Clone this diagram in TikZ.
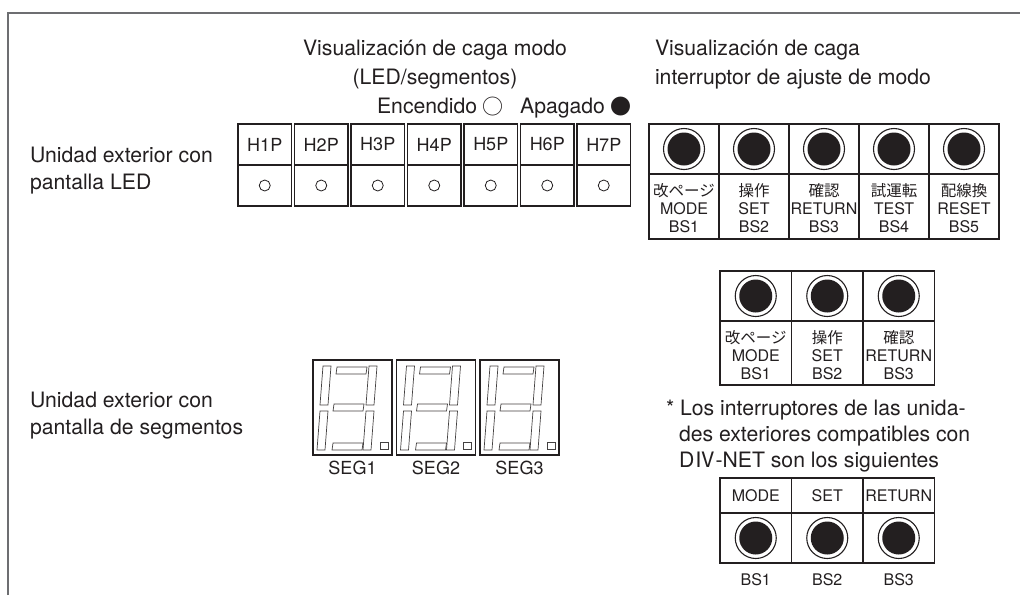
\documentclass[tikz,border=0pt]{standalone}
\usepackage{fontspec}
\setmainfont{TeX Gyre Heros}
\newfontfamily\cjk{Noto Sans CJK JP}
\usetikzlibrary{calc}
\definecolor{ink}{HTML}{231F20}
\definecolor{framegray}{HTML}{6D6E71}
\newcommand\mysegs[2]{%
  \begin{scope}[shift={(#1,#2)}]
    \draw[seg] (24,7) -- (54,7) -- (53,14) -- (23,14) -- cycle;
    \draw[seg] (10,6) -- (18,6) -- (15,45) -- (7,45) -- cycle;
    \draw[seg] (56,6) -- (64,6) -- (61,45) -- (53,45) -- cycle;
    \draw[seg] (21,44) -- (51,44) -- (50,51) -- (20,51) -- cycle;
    \draw[seg] (7,51) -- (15,51) -- (12,90) -- (4,90) -- cycle;
    \draw[seg] (53,51) -- (61,51) -- (58,90) -- (50,90) -- cycle;
    \draw[seg] (20,83) -- (50,83) -- (49,90) -- (19,90) -- cycle;
    \draw[seg] (67,82) rectangle (75,89);
  \end{scope}}
\newcommand\mysym[1]{\raisebox{-1pt}{\cjk\fontsize{21}{21}\selectfont #1}}
\begin{document}
\begin{tikzpicture}[x=1pt,y=-1pt,
  every node/.style={text=ink,inner sep=0pt,outer sep=0pt},
  big/.style={font=\fontsize{21.2}{24}\selectfont},
  hp/.style={font=\fontsize{18}{20}\selectfont},
  sw/.style={font=\fontsize{16}{18}\selectfont},
  seglbl/.style={font=\fontsize{18}{20}\selectfont},
  jp/.style={font=\cjk\fontsize{15.5}{18}\selectfont},
  ledcell/.style={draw=ink,line width=1.1pt,minimum width=53.5pt,minimum height=41pt},
  swcell/.style={draw=ink,line width=1.1pt},
  ring/.style={draw=ink,line width=1.1pt},
  knob/.style={fill=ink},
  ledring/.style={draw=ink,line width=0.8pt},
  segbox/.style={draw=ink,line width=1.3pt,minimum width=79pt,minimum height=95pt},
  seg/.style={draw=ink!85,line width=0.7pt},
]
\useasboundingbox (0,0) rectangle (1020,595);
\fill[white] (0,0) rectangle (1020,595);
% frame
\draw[framegray,line width=1.3pt] (8,595) -- (8,13) -- (1020,13);

% headers
\node[big,anchor=base] (hl1) at (435,55) {Visualización de caga modo};
\node[big,anchor=base] (hl2) at (435,84) {(LED/segmentos)};
\node[big,anchor=base east] (hl3) at (631,113) {Encendido\hspace{5pt}\mysym{○}\hspace{17pt}Apagado\hspace{5pt}\mysym{●}};
\node[big,anchor=base west] (hr1) at (655,55) {Visualización de caga};
\node[big,anchor=base west] (hr2) at (655,84) {interruptor de ajuste de modo};

% left labels
\node[big,anchor=base west] (u1) at (30,162) {Unidad exterior con};
\node[big,anchor=base west] (u2) at (30,189) {pantalla LED};
\node[big,anchor=base west] (u3) at (30,407) {Unidad exterior con};
\node[big,anchor=base west] (u4) at (30,434) {pantalla de segmentos};

% LED table
\foreach \i in {1,...,7}{
  \pgfmathsetmacro\cx{238+56.5*(\i-1)+26.75}
  \node[ledcell,hp] (h\i) at (\cx,144.5) {H\i P};
  \node[ledcell,anchor=north] (l\i) at (h\i.south) {};
  \draw[ledring] (l\i.center) circle (5.5);
}

% five-switch table
\foreach \i/\j/\t/\b in {1/改ページ/MODE/BS1,2/操作/SET/BS2,3/確認/RETURN/BS3,4/試運転/TEST/BS4,5/配線換/RESET/BS5}{
  \pgfmathsetmacro\cx{649+70*\i-35}
  \node[swcell,minimum width=70pt,minimum height=50pt] (a\i) at (\cx,149) {};
  \node[swcell,minimum width=70pt,minimum height=65pt,anchor=north] (b\i) at (a\i.south) {};
  \draw[ring] (a\i.center) circle (20.5);
  \fill[knob] (a\i.center) circle (16.5);
  \node[jp] (aj\i) at (\cx,191) {\j};
  \node[sw] (at\i) at (\cx,209) {\t};
  \node[sw] (ab\i) at (\cx,227) {\b};
}

% three-switch table (upper)
\foreach \i/\j/\t/\b in {1/改ページ/MODE/BS1,2/操作/SET/BS2,3/確認/RETURN/BS3}{
  \pgfmathsetmacro\cx{720+71.5*\i-35.75}
  \node[swcell,minimum width=71.5pt,minimum height=50pt] (c\i) at (\cx,296) {};
  \node[swcell,minimum width=71.5pt,minimum height=64pt,anchor=north] (d\i) at (c\i.south) {};
  \draw[ring] (c\i.center) circle (20.5);
  \fill[knob] (c\i.center) circle (16.5);
  \node[jp] (cj\i) at (\cx,338) {\j};
  \node[sw] (ct\i) at (\cx,356) {\t};
  \node[sw] (cb\i) at (\cx,374) {\b};
}

% footnote
\node[big,anchor=base west] (f1) at (666,415) {* Los interruptores de las unida-};
\node[big,anchor=base west] (f2) at (679,441) {des exteriores compatibles con};
\node[big,anchor=base west] (f3) at (679,467) {D{\cjk Ⅳ}-NET son los siguientes};

% three-switch table (lower)
\foreach \i/\t/\b in {1/MODE/BS1,2/SET/BS2,3/RETURN/BS3}{
  \pgfmathsetmacro\cx{720+71.5*\i-35.75}
  \node[swcell,sw,minimum width=71.5pt,minimum height=35pt] (e\i) at (\cx,495.5) {\t};
  \node[swcell,minimum width=71.5pt,minimum height=50pt,anchor=north] (g\i) at (e\i.south) {};
  \draw[ring] (g\i.center) circle (20.5);
  \fill[knob] (g\i.center) circle (16.5);
  \node[sw] (gb\i) at (\cx,580) {\b};
}

% seven-segment displays
\foreach \i/\x in {1/313,2/396.5,3/480}{
  \node[segbox,anchor=north west] (sg\i) at (\x,360) {};
  \mysegs{\x}{360}
  \node[seglbl] (sl\i) at ($(sg\i.south)+(0,13)$) {SEG\i};
}
\end{tikzpicture}
\end{document}
